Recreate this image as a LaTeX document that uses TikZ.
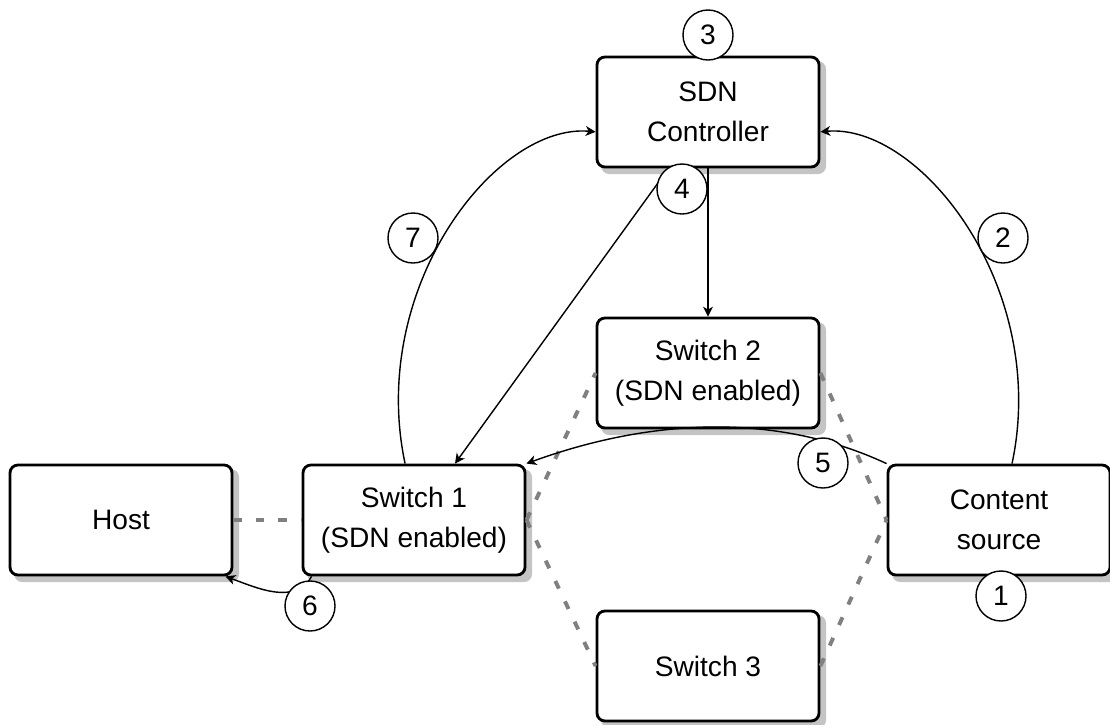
\documentclass[tikz,border=0pt]{standalone}
\usepackage{fontspec}
\setmainfont{Liberation Sans}
\usetikzlibrary{arrows.meta,backgrounds}

\tikzset{
  box/.style={draw, fill=white, rounded corners=0.2cm, line width=2pt,
    minimum width=5.55cm, minimum height=2.75cm, align=center},
  boxshadow/.style={fill=black!23, rounded corners=0.2cm},
  num/.style={circle, draw, fill=white, line width=1pt, minimum size=1.25cm, inner sep=0pt},
  link/.style={draw=black!50, line width=2.8pt, dash pattern=on 6pt off 10pt},
  flow/.style={-{Stealth[length=7pt,width=7pt,inset=2pt]}, line width=1pt}
}

\begin{document}
\begin{tikzpicture}[x=0.025cm, y=-0.025cm, font=\fontsize{20}{28.5}\selectfont]
    \useasboundingbox (0,0) rectangle (1110,724);
    \node (ctrl) at (708,112) [box] {SDN\\Controller};
    \node (sw2) at (708,373) [box] {Switch 2\\(SDN enabled)};
    \node (host) at (121,520) [box] {Host};
    \node (sw1) at (414,520) [box] {Switch 1\\(SDN enabled)};
    \node (src) at (999,520) [box] {Content\\source};
    \node (sw3) at (708,666) [box] {Switch 3};
    \begin{scope}[on background layer]
      \foreach \b in {ctrl,sw2,host,sw1,src,sw3}
        \fill[boxshadow] ([shift={(4pt,-4pt)}]\b.south west) rectangle ([shift={(4pt,-4pt)}]\b.north east);
    \end{scope}
    % links between devices
    \draw[link] (host) -- (sw1);
    \draw[link] (sw1.east) -- (sw2.west);
    \draw[link] (sw1.east) -- (sw3.west);
    \draw[link] (sw2.east) -- (src.west);
    \draw[link] (sw3.east) -- (src.west);
    % message flow
    \draw[flow] (src.77) to[out=78, in=5, out distance=4.5cm, in distance=2.5cm] (ctrl.-10);
    \draw[flow] (sw1.99) to[out=102, in=175, out distance=4.5cm, in distance=2.5cm] (ctrl.190);
    \draw[flow] (ctrl.235) -- (sw1.54);
    \draw[flow] (ctrl.south) -- (sw2.north);
    \draw[flow] (src.north west) to[out=155, in=20, looseness=0.9] (sw1.north east);
    \draw[flow] ([xshift=0.25cm]sw1.south west) to[out=240, in=-20] ([xshift=-0.2cm]host.south east);
    % step numbers
    \node (n1) at (1001,596) [num] {1};
    \node (n2) at (1003,238) [num] {2};
    \node (n3) at (708,35) [num] {3};
    \node (n4) at (682,189) [num] {4};
    \node (n5) at (823,463) [num] {5};
    \node (n6) at (310,606) [num] {6};
    \node (n7) at (413,238) [num] {7};
\end{tikzpicture}
\end{document}
